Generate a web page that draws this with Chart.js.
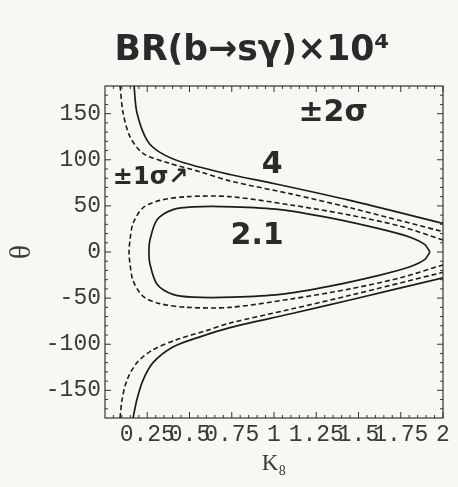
<!DOCTYPE html>
<html>
<head>
<meta charset="utf-8">
<script src="https://cdn.jsdelivr.net/npm/chart.js@4/dist/chart.umd.min.js"></script>
<style>
  html, body { margin: 0; padding: 0; background: #f7f8f4; }
  #wrap { width: 458px; height: 487px; }
</style>
</head>
<body>
<div id="wrap"><canvas id="chart" width="458" height="487"></canvas></div>
<script>
// ---------------------------------------------------------------
// contour lines in the (K8, theta) plane, points are [K8, theta]
// ---------------------------------------------------------------
const outerSolidUpper = [[0.172,180],[0.189,151],[0.249,121],[0.325,108],[0.462,97],[0.740,84],[1.006,74],[1.450,56],[2.0,31]];
const outerSolidLower = [[0.166,-180],[0.189,-160],[0.225,-139],[0.284,-120],[0.402,-103],[0.562,-92],[0.740,-82],[1.1,-67],[1.450,-52],[2.0,-28]];
const outerDashUpper  = [[0.089,180],[0.107,151],[0.148,125],[0.225,107],[0.367,97],[0.562,87],[0.740,77],[1.1,63],[1.450,48],[2.0,22]];
const outerDashLower  = [[0.089,-180],[0.101,-160],[0.130,-139],[0.189,-120],[0.284,-106],[0.426,-95],[0.604,-85],[0.740,-77],[1.1,-62],[1.450,-47],[2.0,-22]];
const innerDashLoop   = [[2.0,13],[1.746,28],[1.450,40],[1.1,51],[0.740,60],[0.485,60],[0.325,56],[0.225,48],[0.166,31],[0.148,13],[0.142,0],
                         [0.148,-13],[0.166,-31],[0.225,-48],[0.325,-56],[0.485,-60],[0.740,-60],[1.1,-51],[1.450,-40],[1.746,-28],[2.0,-14]];
const innerSolidLoop  = [[1.923,0],[1.893,8],[1.805,16],[1.627,25],[1.331,37],[1.036,46],[0.757,49],[0.521,49],[0.402,46],[0.308,35],[0.266,13],[0.260,0],
                         [0.266,-13],[0.308,-35],[0.402,-46],[0.521,-49],[0.757,-49],[1.036,-46],[1.331,-37],[1.627,-25],[1.805,-16],[1.893,-8],[1.923,0]];

const xTicks = [0.25, 0.5, 0.75, 1, 1.25, 1.5, 1.75, 2];
const yTicks = [-150, -100, -50, 0, 50, 100, 150];

const titleText = "BR(b→sγ)×10⁴";
// hand-written notes placed in data coordinates
const notes = [
  { text: "±2σ",  k: 1.35, theta: 150, size: 30 },
  { text: "4",    k: 0.99, theta: 94,  size: 30 },
  { text: "±1σ↗", k: 0.27, theta: 80,  size: 24 },
  { text: "2.1",  k: 0.90, theta: 17,  size: 30 },
];

const INK = "#1c1c1c";

function toPoints(arr) {
  return arr.map(([k, t]) => ({ x: k, y: t }));
}

function line(arr, dashed) {
  return {
    data: toPoints(arr),
    showLine: true,
    pointRadius: 0,
    borderColor: INK,
    borderWidth: dashed ? 1.6 : 1.7,
    borderDash: dashed ? [5, 3] : [],
    tension: 0.3,
    fill: false,
  };
}

// background, frame with inward ticks, title and notes
const framePlugin = {
  id: "frame",
  beforeDraw(chart) {
    const ctx = chart.ctx;
    ctx.save();
    ctx.fillStyle = "#f7f8f4";
    ctx.fillRect(0, 0, chart.width, chart.height);
    ctx.restore();
  },
  afterDatasetsDraw(chart) {
    const { ctx, chartArea: a, scales } = chart;
    const xs = scales.x, ys = scales.y;
    ctx.save();
    ctx.strokeStyle = "#333";
    ctx.lineWidth = 1.2;
    ctx.strokeRect(a.left, a.top, a.right - a.left, a.bottom - a.top);

    ctx.lineWidth = 1;
    ctx.beginPath();
    for (let i = 1; i <= 40; i++) {
      const v = i * 0.05;
      const px = xs.getPixelForValue(v);
      const len = i % 5 === 0 ? 6 : 3;
      ctx.moveTo(px, a.bottom); ctx.lineTo(px, a.bottom - len);
      ctx.moveTo(px, a.top);    ctx.lineTo(px, a.top + len);
    }
    for (let v = -170; v <= 170; v += 10) {
      const py = ys.getPixelForValue(v);
      const len = v % 50 === 0 ? 6 : 3;
      ctx.moveTo(a.left, py);  ctx.lineTo(a.left + len, py);
      ctx.moveTo(a.right, py); ctx.lineTo(a.right - len, py);
    }
    ctx.stroke();

    // hand-written labels
    ctx.fillStyle = "#2a2a2a";
    ctx.textAlign = "center";
    ctx.textBaseline = "middle";
    notes.forEach((n) => {
      ctx.font = "bold " + n.size + "px 'DejaVu Sans'";
      ctx.fillText(n.text, xs.getPixelForValue(n.k), ys.getPixelForValue(n.theta));
    });

    // title, stretched to its width over the plot
    ctx.font = "bold 36px 'DejaVu Sans'";
    const w = ctx.measureText(titleText).width;
    const target = 275;
    ctx.translate(252, 51);
    ctx.scale(target / w, 1);
    ctx.fillText(titleText, 0, 0);
    ctx.restore();
  },
};

const tickFont = { family: "'Liberation Mono', 'DejaVu Sans Mono', monospace", size: 23 };

new Chart(document.getElementById("chart"), {
  type: "scatter",
  data: {
    datasets: [
      line(outerSolidUpper, false),
      line(outerSolidLower, false),
      line(outerDashUpper, true),
      line(outerDashLower, true),
      line(innerDashLoop, true),
      line(innerSolidLoop, false),
    ],
  },
  options: {
    responsive: false,
    animation: false,
    layout: { padding: { left: 0, right: 15, top: 86, bottom: 0 } },
    plugins: { legend: { display: false }, tooltip: { enabled: false } },
    scales: {
      x: {
        type: "linear",
        min: 0,
        max: 2,
        afterBuildTicks: (s) => { s.ticks = xTicks.map((v) => ({ value: v })); },
        afterFit: (s) => { s.height = 69; },
        grid: { display: false, drawTicks: false },
        border: { display: false },
        ticks: {
          autoSkip: false,
          maxRotation: 0,
          minRotation: 0,
          padding: 3,
          color: "#3a3a3a",
          font: tickFont,
          callback: (v) => String(v),
        },
        title: {
          display: true,
          text: "K₈",
          color: "#3a3a3a",
          font: { family: "'Liberation Serif', serif", size: 23 },
          padding: { top: 0, bottom: 9 },
        },
      },
      y: {
        type: "linear",
        min: -180,
        max: 180,
        afterBuildTicks: (s) => { s.ticks = yTicks.map((v) => ({ value: v })); },
        afterFit: (s) => { s.width = 105; },
        grid: { display: false, drawTicks: false },
        border: { display: false },
        ticks: {
          autoSkip: false,
          padding: 4,
          color: "#3a3a3a",
          font: tickFont,
        },
        title: {
          display: true,
          text: "θ",
          color: "#3a3a3a",
          font: { family: "'Liberation Serif', serif", size: 30 },
          padding: { top: 4, bottom: 0 },
        },
      },
    },
  },
  plugins: [framePlugin],
});
</script>
</body>
</html>
